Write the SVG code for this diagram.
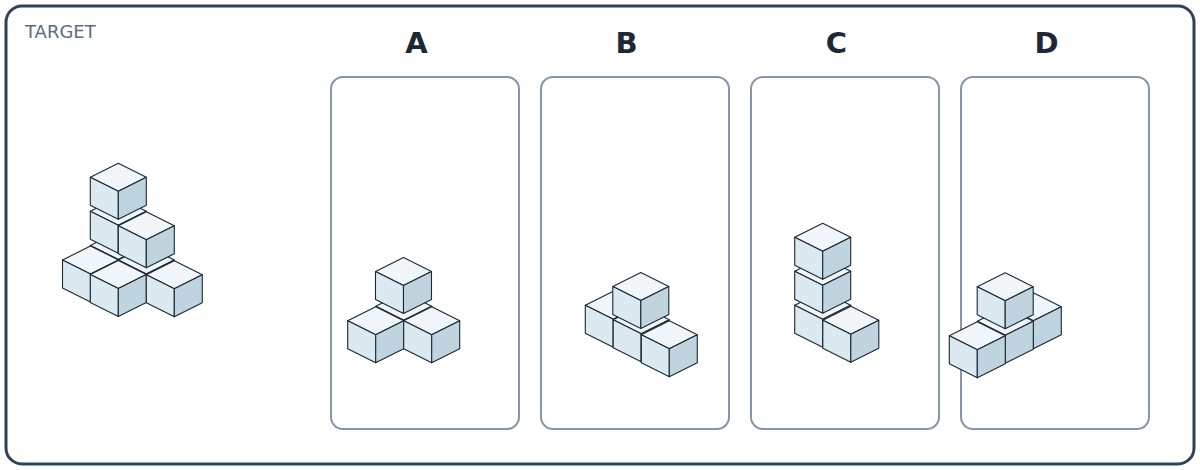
<svg xmlns="http://www.w3.org/2000/svg" xmlns:xlink="http://www.w3.org/1999/xlink" width="1200" height="470" viewBox="0 0 1200 470">
<style>
.frame{fill:#ffffff;stroke:#2f4256;stroke-width:3}
.panel{fill:#ffffff;stroke:#8596a8;stroke-width:2}
.title{font-family:"DejaVu Sans",sans-serif;font-size:18px;fill:#5d6d7e}
.label{font-family:"DejaVu Sans",sans-serif;font-size:29px;font-weight:bold;fill:#1c2836;text-anchor:middle}
.ft{fill:#f0f6f9}
.fl{fill:#dbe9f0}
.fr{fill:#bfd4de}
.cube path{stroke:#1b2836;stroke-width:1.1;stroke-linejoin:round}
</style>
<defs>
<g id="cube" class="cube">
<path class="ft" d="M0,0 L28,14 L0,28 L-28,14 Z"/>
<path class="fl" d="M-28,14 L0,28 L0,56 L-28,42 Z"/>
<path class="fr" d="M0,28 L28,14 L28,42 L0,56 Z"/>
</g>
</defs>
<rect class="frame" x="6" y="6" width="1188" height="458" rx="16"/>
<text class="title" x="25" y="38.3">TARGET</text>
<g id="labels">
<text class="label" x="416.5" y="53">A</text>
<text class="label" x="626.5" y="53">B</text>
<text class="label" x="836.5" y="53">C</text>
<text class="label" x="1046.5" y="53">D</text>
</g>
<g id="panels">
<rect id="panel-A" class="panel" x="331" y="77" width="188" height="352" rx="12"/>
<rect id="panel-B" class="panel" x="541" y="77" width="188" height="352" rx="12"/>
<rect id="panel-C" class="panel" x="751" y="77" width="188" height="352" rx="12"/>
<rect id="panel-D" class="panel" x="961" y="77" width="188" height="352" rx="12"/>
</g>
<g id="target">
<use xlink:href="#cube" x="118.3" y="231.5"/>
<use xlink:href="#cube" x="118.3" y="197.3"/>
<use xlink:href="#cube" x="146.3" y="246"/>
<use xlink:href="#cube" x="90.5" y="246"/>
<use xlink:href="#cube" x="118.3" y="163.3"/>
<use xlink:href="#cube" x="146.3" y="211.7"/>
<use xlink:href="#cube" x="118.3" y="260.5"/>
<use xlink:href="#cube" x="174.3" y="260.8"/>
</g>
<g id="option-A">
<use xlink:href="#cube" x="403.7" y="292.2"/>
<use xlink:href="#cube" x="375.7" y="306.7"/>
<use xlink:href="#cube" x="431.7" y="306.7"/>
<use xlink:href="#cube" x="403.5" y="257.5"/>
</g>
<g id="option-B">
<use xlink:href="#cube" x="613.3" y="291.3"/>
<use xlink:href="#cube" x="641.2" y="305.8"/>
<use xlink:href="#cube" x="669.3" y="320.8"/>
<use xlink:href="#cube" x="640.8" y="272.5"/>
</g>
<g id="option-C">
<use xlink:href="#cube" x="822.7" y="291.3"/>
<use xlink:href="#cube" x="822.7" y="257.2"/>
<use xlink:href="#cube" x="850.8" y="306.3"/>
<use xlink:href="#cube" x="822.7" y="223.3"/>
</g>
<g id="option-D">
<use xlink:href="#cube" x="1033.3" y="292.7"/>
<use xlink:href="#cube" x="1005.3" y="307.2"/>
<use xlink:href="#cube" x="977.3" y="321.7"/>
<use xlink:href="#cube" x="1005.2" y="272.8"/>
</g>
</svg>
